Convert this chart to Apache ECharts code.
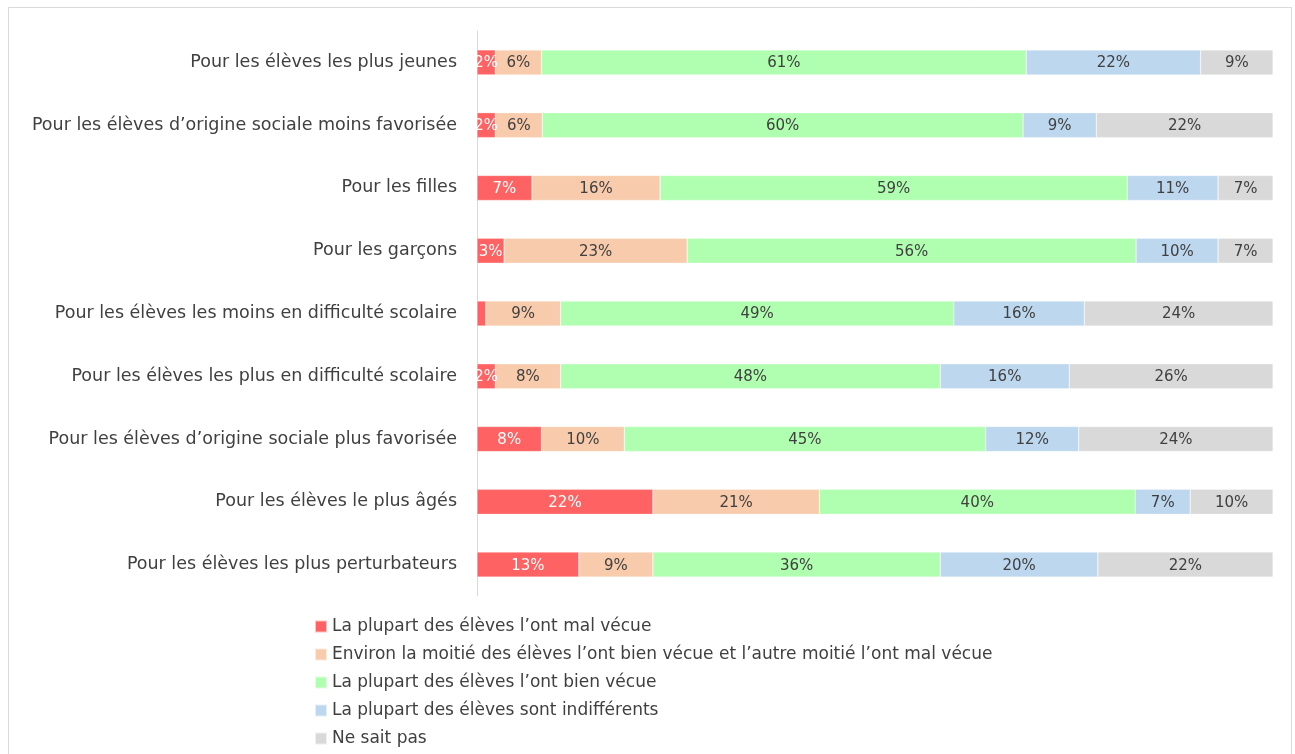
<!DOCTYPE html>
<html>
<head>
<meta charset="utf-8">
<script src="https://cdn.jsdelivr.net/npm/echarts@6/dist/echarts.min.js"></script>
<style>
  html, body { margin: 0; padding: 0; background: #fff; }
  #chart { width: 1295px; height: 754px; }
</style>
</head>
<body>
<div id="chart"></div>
<script>
// Categories, top to bottom
const categories = [
    'Pour les élèves les plus jeunes',
    'Pour les élèves d’origine sociale moins favorisée',
    'Pour les filles',
    'Pour les garçons',
    'Pour les élèves les moins en difficulté scolaire',
    'Pour les élèves les plus en difficulté scolaire',
    'Pour les élèves d’origine sociale plus favorisée',
    'Pour les élèves le plus âgés',
    'Pour les élèves les plus perturbateurs'
];

const seriesNames = [
    'La plupart des élèves l’ont mal vécue',
    'Environ la moitié des élèves l’ont bien vécue et l’autre moitié l’ont mal vécue',
    'La plupart des élèves l’ont bien vécue',
    'La plupart des élèves sont indifférents',
    'Ne sait pas'
];

// Shares in %
const malVecue     = [2.3, 2.3, 6.9, 3.4, 1.1, 2.3, 8.1, 22.1, 12.8];
const moitie       = [5.8, 5.9, 16.1, 23.0, 9.4, 8.2, 10.4, 20.9, 9.3];
const bienVecue    = [60.9, 60.4, 58.7, 56.4, 49.4, 47.7, 45.4, 39.7, 36.1];
const indifferents = [21.9, 9.2, 11.4, 10.3, 16.4, 16.2, 11.7, 6.9, 19.8];
const neSaitPas    = [9.1, 22.2, 6.9, 6.9, 23.7, 25.6, 24.4, 10.4, 22.0];

const colors = ['#ff6262', '#f7cbab', '#b0ffb0', '#bdd7ee', '#d9d9d9'];
const seriesData = [malVecue, moitie, bienVecue, indifferents, neSaitPas];

const fontFamily = '"DejaVu Sans", "Open Sans", sans-serif';

const chart = echarts.init(document.getElementById('chart'));

const series = seriesData.map(function (data, i) {
    return {
        name: seriesNames[i],
        type: 'bar',
        stack: 'total',
        barWidth: 25,
        data: data,
        itemStyle: {
            color: colors[i],
            borderColor: 'rgba(255,255,255,0.6)',
            borderWidth: 0.5
        },
        label: {
            show: true,
            position: 'inside',
            offset: [0, 1],
            color: i === 0 ? '#ffffff' : '#404040',
            fontSize: 15,
            fontFamily: fontFamily,
            formatter: function (p) {
                return p.value < 1.5 ? '' : Math.round(p.value) + '%';
            }
        },
        emphasis: { disabled: true }
    };
});

chart.setOption({
    animation: false,
    textStyle: { fontFamily: fontFamily },
    graphic: [{
        type: 'rect',
        shape: { x: 8.5, y: 7.5, width: 1283, height: 770 },
        style: { fill: 'none', stroke: '#d9d9d9', lineWidth: 1 },
        silent: true
    }],
    grid: {
        left: 477,
        right: 22,
        top: 31,
        bottom: 158
    },
    legend: {
        orient: 'vertical',
        left: 314,
        top: 618,
        padding: 0,
        itemWidth: 12,
        itemHeight: 12,
        itemGap: 11,
        icon: 'rect',
        data: seriesNames,
        textStyle: {
            fontSize: 17,
            lineHeight: 17,
            color: '#404040',
            fontFamily: fontFamily
        }
    },
    xAxis: {
        type: 'value',
        min: 0,
        max: 100,
        show: false
    },
    yAxis: {
        type: 'category',
        inverse: true,
        data: categories,
        axisLine: { lineStyle: { color: '#d9d9d9' } },
        axisTick: { show: false },
        axisLabel: {
            margin: 20,
            fontSize: 17.5,
            color: '#404040',
            fontFamily: fontFamily
        }
    },
    series: series
});
</script>
</body>
</html>
